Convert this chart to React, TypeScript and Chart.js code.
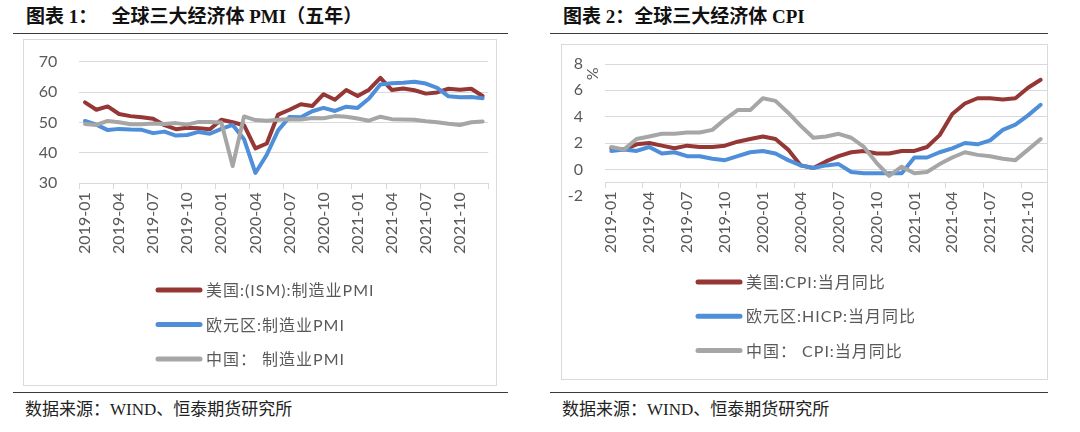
import React, { useEffect, useRef } from "react";
import { Chart, registerables } from "chart.js";

Chart.register(...registerables);

// ---------------- data ----------------
const pmiMonths = [
  "2019-01", "2019-02", "2019-03", "2019-04", "2019-05", "2019-06", "2019-07", "2019-08", "2019-09", "2019-10", "2019-11", "2019-12",
  "2020-01", "2020-02", "2020-03", "2020-04", "2020-05", "2020-06", "2020-07", "2020-08", "2020-09", "2020-10", "2020-11", "2020-12",
  "2021-01", "2021-02", "2021-03", "2021-04", "2021-05", "2021-06", "2021-07", "2021-08", "2021-09", "2021-10", "2021-11", "2021-12",
];
const usPmi = [56.6, 54.2, 55.3, 52.8, 52.1, 51.7, 51.2, 49.1, 47.8, 48.3, 48.1, 47.8, 50.9, 50.1, 49.1, 41.5, 43.1, 52.6, 54.2, 56.0, 55.4, 59.3, 57.5, 60.7, 58.7, 60.8, 64.7, 60.7, 61.2, 60.6, 59.5, 59.9, 61.1, 60.8, 61.1, 58.7];
const euPmi = [50.5, 49.3, 47.5, 47.9, 47.7, 47.6, 46.5, 47.0, 45.7, 45.9, 46.9, 46.3, 47.9, 49.2, 44.5, 33.4, 39.4, 47.4, 51.8, 51.7, 53.7, 54.8, 53.8, 55.2, 54.8, 57.9, 62.5, 62.9, 63.1, 63.4, 62.8, 61.4, 58.6, 58.3, 58.4, 58.0];
const cnPmi = [49.5, 49.2, 50.5, 50.1, 49.4, 49.4, 49.7, 49.5, 49.8, 49.3, 50.2, 50.2, 50.0, 35.7, 52.0, 50.8, 50.6, 50.9, 51.1, 51.0, 51.5, 51.4, 52.1, 51.9, 51.3, 50.6, 51.9, 51.1, 51.0, 50.9, 50.4, 50.1, 49.6, 49.2, 50.1, 50.3];
const pmiSeriesNames = ["美国:(ISM):制造业PMI", "欧元区:制造业PMI", "中国： 制造业PMI"];
const pmiAxis = { min: 30, max: 70, step: 10 };

const cpiMonths = [
  "2019-01", "2019-02", "2019-03", "2019-04", "2019-05", "2019-06", "2019-07", "2019-08", "2019-09", "2019-10", "2019-11", "2019-12",
  "2020-01", "2020-02", "2020-03", "2020-04", "2020-05", "2020-06", "2020-07", "2020-08", "2020-09", "2020-10", "2020-11", "2020-12",
  "2021-01", "2021-02", "2021-03", "2021-04", "2021-05", "2021-06", "2021-07", "2021-08", "2021-09", "2021-10", "2021-11",
];
const usCpi = [1.6, 1.5, 1.9, 2.0, 1.8, 1.6, 1.8, 1.7, 1.7, 1.8, 2.1, 2.3, 2.5, 2.3, 1.5, 0.3, 0.1, 0.6, 1.0, 1.3, 1.4, 1.2, 1.2, 1.4, 1.4, 1.7, 2.6, 4.2, 5.0, 5.4, 5.4, 5.3, 5.4, 6.2, 6.8];
const euCpi = [1.4, 1.5, 1.4, 1.7, 1.2, 1.3, 1.0, 1.0, 0.8, 0.7, 1.0, 1.3, 1.4, 1.2, 0.7, 0.3, 0.1, 0.3, 0.4, -0.2, -0.3, -0.3, -0.3, -0.3, 0.9, 0.9, 1.3, 1.6, 2.0, 1.9, 2.2, 3.0, 3.4, 4.1, 4.9];
const cnCpi = [1.7, 1.5, 2.3, 2.5, 2.7, 2.7, 2.8, 2.8, 3.0, 3.8, 4.5, 4.5, 5.4, 5.2, 4.3, 3.3, 2.4, 2.5, 2.7, 2.4, 1.7, 0.5, -0.5, 0.2, -0.3, -0.2, 0.4, 0.9, 1.3, 1.1, 1.0, 0.8, 0.7, 1.5, 2.3];
const cpiSeriesNames = ["美国:CPI:当月同比", "欧元区:HICP:当月同比", "中国： CPI:当月同比"];
const cpiAxis = { min: -2, max: 8, step: 2, crossAt: -1, unit: "%" };

const title1 = "图表 1：   全球三大经济体 PMI（五年）";
const title2 = "图表 2：全球三大经济体 CPI";
const sourceText = "数据来源：WIND、恒泰期货研究所";

// ---------------- styles ----------------
const RED = "#953735";
const BLUE = "#4F8FDA";
const GRAY = "#A6A6A6";
const GRID = "#D9D9D9";
const TICK = "#595959";
const CHART_FONT = "Lato, 'Noto Sans CJK SC', sans-serif";
const TITLE_FONT = "'Liberation Serif', 'Noto Sans CJK SC', serif";
const TRANSPARENT = "rgba(0,0,0,0)";

const stackedLegend = {
  id: "stackedLegend",
  afterDraw(chart: any, _args: any, opts: any) {
    const { ctx } = chart;
    ctx.save();
    chart.data.datasets.forEach((ds: any, i: number) => {
      const y = opts.y + i * opts.gap;
      ctx.strokeStyle = ds.borderColor;
      ctx.lineWidth = 5;
      ctx.lineCap = "round";
      ctx.beginPath();
      ctx.moveTo(opts.x, y);
      ctx.lineTo(opts.x + opts.len, y);
      ctx.stroke();
      ctx.fillStyle = TICK;
      ctx.font = `16px ${CHART_FONT}`;
      ctx.textAlign = "left";
      ctx.textBaseline = "middle";
      try { (ctx as any).letterSpacing = opts.spacing || "0px"; } catch (e) {}
      ctx.fillText(ds.label, opts.x + opts.len + opts.textGap, y + 1);
    });
    ctx.restore();
  },
};

const unitMark = {
  id: "unitMark",
  afterDraw(chart: any, _args: any, opts: any) {
    if (!opts || !opts.text) return;
    const { ctx, chartArea, scales } = chart;
    const x = chartArea.left - opts.dx;
    const y = scales.y.getPixelForValue(opts.value);
    ctx.save();
    ctx.translate(x, y);
    ctx.rotate(-Math.PI / 2);
    ctx.fillStyle = TICK;
    ctx.font = `16px ${CHART_FONT}`;
    ctx.textAlign = "center";
    ctx.textBaseline = "middle";
    ctx.fillText(opts.text, 0, 0);
    ctx.restore();
  },
};

type Spec = {
  labels: string[];
  series: { label: string; data: number[]; color: string }[];
  yMin: number;
  yMax: number;
  yStep: number;
  crossAt: number;
  yWidth: number;
  padding: { left: number; top: number; right: number; bottom: number };
  legend: { x: number; y: number; gap: number; len: number; textGap: number; spacing: string };
  unit?: { text: string; value: number; dx: number };
};

function buildConfig(spec: Spec): any {
  const n = spec.series.length;
  return {
    type: "line",
    data: {
      labels: spec.labels,
      datasets: spec.series.map((s, i) => ({
        label: s.label,
        data: s.data,
        borderColor: s.color,
        backgroundColor: s.color,
        borderWidth: 4,
        pointRadius: 0,
        pointHoverRadius: 0,
        tension: 0,
        fill: false,
        borderJoinStyle: "round",
        borderCapStyle: "round",
        order: n - i,
      })),
    },
    options: {
      animation: false,
      responsive: false,
      maintainAspectRatio: false,
      events: [],
      layout: { padding: spec.padding },
      plugins: {
        legend: { display: false },
        tooltip: { enabled: false },
        title: { display: false },
        stackedLegend: spec.legend,
        unitMark: spec.unit || {},
      },
      scales: {
        x: {
          type: "category",
          offset: true,
          position: { y: spec.crossAt },
          grid: {
            display: true,
            drawOnChartArea: false,
            drawTicks: true,
            tickLength: 5,
            offset: true,
            lineWidth: 1,
            color: (c: any) => (c.index === undefined || c.index % 3 === 0 ? GRID : TRANSPARENT),
          },
          border: { display: true, color: GRID, width: 1 },
          ticks: {
            autoSkip: false,
            minRotation: 90,
            maxRotation: 90,
            padding: 4,
            color: TICK,
            font: { family: CHART_FONT, size: 16 },
            callback: function (this: any, value: any, index: number) {
              return index % 3 === 0 ? this.getLabelForValue(value) : "";
            },
          },
          afterFit: (s: any) => {
            s.paddingLeft = 0;
            s.paddingRight = 0;
            s.paddingTop = 0;
            s.paddingBottom = 0;
          },
        },
        y: {
          min: spec.yMin,
          max: spec.yMax,
          position: "left",
          grid: {
            display: true,
            drawTicks: false,
            lineWidth: 1,
            color: (c: any) => (c.tick && c.tick.value === spec.yMin && spec.crossAt !== spec.yMin ? TRANSPARENT : GRID),
          },
          border: { display: false },
          ticks: {
            stepSize: spec.yStep,
            padding: 22,
            color: TICK,
            font: { family: CHART_FONT, size: 16 },
          },
          afterFit: (s: any) => {
            s.width = spec.yWidth;
            s.paddingTop = 0;
            s.paddingBottom = 0;
            s.paddingLeft = 0;
            s.paddingRight = 0;
          },
        },
      },
    },
    plugins: [stackedLegend, unitMark],
  };
}

function ChartBox(props: { spec: Spec; left: number; top: number; w: number; h: number }) {
  const { spec, left, top, w, h } = props;
  const ref = useRef<HTMLCanvasElement>(null);
  useEffect(() => {
    if (!ref.current) return;
    const chart = new Chart(ref.current, buildConfig(spec));
    return () => chart.destroy();
  }, []);
  return (
    <div
      style={{
        position: "absolute",
        left,
        top,
        width: w,
        height: h,
        border: `1px solid ${GRID}`,
        boxSizing: "border-box",
        background: "#fff",
      }}
    >
      <canvas ref={ref} width={w - 2} height={h - 2} style={{ display: "block", width: w - 2, height: h - 2 }} />
    </div>
  );
}

const pmiSpec: Spec = {
  labels: pmiMonths,
  series: [
    { label: pmiSeriesNames[0], data: usPmi, color: RED },
    { label: pmiSeriesNames[1], data: euPmi, color: BLUE },
    { label: pmiSeriesNames[2], data: cnPmi, color: GRAY },
  ],
  yMin: pmiAxis.min,
  yMax: pmiAxis.max,
  yStep: pmiAxis.step,
  crossAt: pmiAxis.min,
  yWidth: 55.3,
  padding: { left: 0, top: 21.7, right: 7.7, bottom: 201.7 },
  legend: { x: 134, y: 250, gap: 34.5, len: 42, textGap: 6, spacing: "1px" },
};

const cpiSpec: Spec = {
  labels: cpiMonths,
  series: [
    { label: cpiSeriesNames[0], data: usCpi, color: RED },
    { label: cpiSeriesNames[1], data: euCpi, color: BLUE },
    { label: cpiSeriesNames[2], data: cnCpi, color: GRAY },
  ],
  yMin: cpiAxis.min,
  yMax: cpiAxis.max,
  yStep: cpiAxis.step,
  crossAt: cpiAxis.crossAt,
  yWidth: 43,
  padding: { left: 0, top: 19, right: 0, bottom: 183.3 },
  legend: { x: 136, y: 237, gap: 34.3, len: 42, textGap: 6, spacing: "1px" },
  unit: { text: cpiAxis.unit, value: 7.26, dx: 12 },
};

const titleStyle: React.CSSProperties = {
  position: "absolute",
  top: 6,
  fontFamily: TITLE_FONT,
  fontSize: 19,
  lineHeight: "21px",
  fontWeight: "bold",
  color: "#111",
  whiteSpace: "pre",
};
const sourceStyle: React.CSSProperties = {
  position: "absolute",
  top: 399,
  fontFamily: TITLE_FONT,
  fontSize: 17,
  lineHeight: "21px",
  color: "#222",
  whiteSpace: "pre",
};
const rule = (left: number, top: number, width: number): React.CSSProperties => ({
  position: "absolute",
  left,
  top,
  width,
  height: 0,
  borderTop: "1px solid #3a3a3a",
});

export default function App() {
  return (
    <div
      style={{
        position: "absolute",
        left: 0,
        top: 0,
        width: 1080,
        height: 432,
        background: "#fff",
        overflow: "hidden",
      }}
    >
      <div style={{ ...titleStyle, left: 26 }}>{title1}</div>
      <div style={{ ...titleStyle, left: 563 }}>{title2}</div>
      <div style={rule(13, 33, 495)} />
      <div style={rule(550, 33, 498)} />
      <ChartBox spec={pmiSpec} left={23} top={39} w={474} h={347} />
      <ChartBox spec={cpiSpec} left={561} top={44} w={487} h={336} />
      <div style={rule(13, 392, 495)} />
      <div style={rule(550, 392, 498)} />
      <div style={{ ...sourceStyle, left: 25 }}>{sourceText}</div>
      <div style={{ ...sourceStyle, left: 562 }}>{sourceText}</div>
    </div>
  );
}
